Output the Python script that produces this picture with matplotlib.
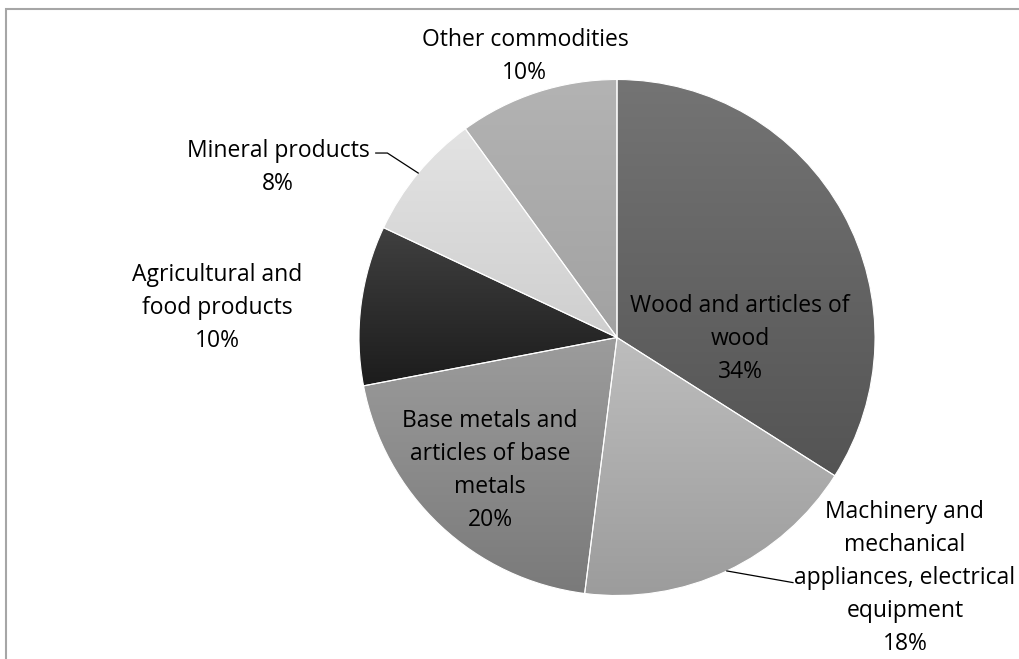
import numpy as np
import matplotlib
matplotlib.use("Agg")
import matplotlib.pyplot as plt
from matplotlib.colors import LinearSegmentedColormap
from matplotlib.patches import Rectangle

# --------------------------------------------------------------------
# Data
# --------------------------------------------------------------------
categories = [
    "Wood and articles of\nwood",
    "Machinery and\nmechanical\nappliances, electrical\nequipment",
    "Base metals and\narticles of base\nmetals",
    "Agricultural and\nfood products",
    "Mineral products",
    "Other commodities",
]
shares = [34, 18, 20, 10, 8, 10]

# gradient (top colour, bottom colour) for each slice
grad_top = ["#747474", "#bdbdbd", "#9c9c9c", "#404040", "#e3e3e3", "#b3b3b3"]
grad_bot = ["#545454", "#9c9c9c", "#7a7a7a", "#1c1c1c", "#cfcfcf", "#a2a2a2"]

# label centres (data units, pie radius = 1) and leader lines
label_pos = [(0.477, -0.006), (1.116, -0.934), (-0.492, -0.517),
             (-1.550, 0.114), (-1.314, 0.657), (-0.357, 1.089)]
leaders = {1: [(0.682, -0.95)], 4: [(-0.89, 0.715), (-0.935, 0.715)]}

# --------------------------------------------------------------------
# Figure
# --------------------------------------------------------------------
W, H, DPI = 1020, 659, 100
cx, cy, R = 617, 337.5, 258   # pixel centre and radius of the pie

fig = plt.figure(figsize=(W / DPI, H / DPI), dpi=DPI)
ax = fig.add_axes([0, 0, 1, 1])
ax.axis("off")

wedges, _ = ax.pie(
    shares,
    startangle=90,
    counterclock=False,
    radius=1,
    wedgeprops=dict(edgecolor="white", linewidth=0.8),
)

grad = np.linspace(0, 1, 256).reshape(-1, 1)
for w, c0, c1 in zip(wedges, grad_top, grad_bot):
    bb = w.get_path().get_extents(w.get_patch_transform())
    cmap = LinearSegmentedColormap.from_list("g", [c0, c1])
    im = ax.imshow(grad, cmap=cmap, extent=[bb.x0, bb.x1, bb.y0, bb.y1],
                   origin="upper", aspect="auto", zorder=1, interpolation="bilinear")
    im.set_clip_path(w)
    w.set_facecolor("none")
    w.set_zorder(2)

# labels
for i, (lab, v, (lx, ly)) in enumerate(zip(categories, shares, label_pos)):
    ax.text(lx, ly, f"{lab}\n{v}%", ha="center", va="center",
            fontsize=16.5, family=["Open Sans", "DejaVu Sans"],
            linespacing=1.5, color="black", zorder=3)

# leader lines from slice edge to the label
ang = 90 - 360 * (np.cumsum(shares) - np.array(shares) / 2) / sum(shares)
for i, pts in leaders.items():
    a = np.deg2rad(ang[i])
    xs = [np.cos(a)] + [p[0] for p in pts]
    ys = [np.sin(a)] + [p[1] for p in pts]
    ax.plot(xs, ys, color="black", lw=0.9, zorder=3)

ax.set_xlim(-cx / R, (W - cx) / R)
ax.set_ylim((cy - H) / R, cy / R)

# chart area border (runs off the right and bottom edges)
fig.add_artist(Rectangle((6 / W, -0.2), 1.2, 1.2 - 9 / H, transform=fig.transFigure,
                         fill=False, edgecolor="#a6a6a6", lw=1.5, clip_on=False))

fig.savefig("out.png", dpi=DPI)
